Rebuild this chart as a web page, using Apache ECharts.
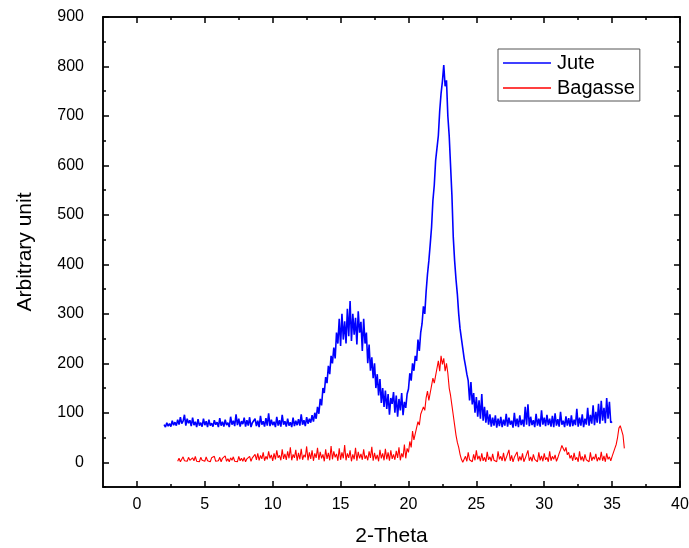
<!DOCTYPE html>
<html>
<head>
<meta charset="utf-8">
<script src="https://cdn.jsdelivr.net/npm/echarts@6/dist/echarts.min.js"></script>
<style>
  html, body { margin: 0; padding: 0; background: #fff; }
  #chart { width: 689px; height: 548px; }
</style>
</head>
<body>
<div id="chart"></div>
<script>
const chart = echarts.init(document.getElementById("chart"));

// scan grid: 2-theta start and step of each scan
const juteStart = 2.0;
const bagasseStart = 3.0;
const scanStep = 0.1;

// intensities, one row per degree
const juteValues = [
  76, 71, 80, 73, 78, 72, 84, 75, 81, 74,
  86, 76, 91, 78, 83, 96, 74, 88, 79, 85,
  73, 90, 75, 82, 71, 87, 74, 80, 72, 88,
  75, 83, 71, 86, 74, 79, 72, 85, 76, 81,
  71, 89, 74, 82, 72, 86, 75, 80, 71, 92,
  76, 84, 73, 97, 75, 88, 72, 83, 77, 90,
  72, 85, 74, 91, 71, 80, 76, 88, 73, 84,
  71, 94, 76, 83, 72, 89, 74, 99, 73, 86,
  75, 82, 71, 92, 74, 85, 72, 96, 76, 83,
  72, 88, 74, 81, 71, 90, 73, 84, 75, 87,
  74, 97, 76, 85, 73, 91, 78, 88, 80, 95,
  82, 100, 88, 112, 98, 128, 115, 150, 140, 172,
  160, 195, 178, 215, 200, 232, 210, 262, 240, 290,
  235, 300, 248, 285, 240, 310, 255, 326, 245, 300,
  258, 292, 238, 305, 262, 284, 225, 290, 240, 262,
  200, 238, 185, 212, 170, 200, 150, 178, 135, 168,
  120, 150, 112, 145, 108, 138, 96, 130, 118, 142,
  100, 135, 92, 128, 105, 140, 95, 122, 110, 138,
  148, 180, 165, 200, 185, 215, 205, 248, 225, 262,
  280, 315, 300, 345, 380, 407, 440, 475, 529, 560,
  610, 635, 660, 710, 745, 770, 803, 760, 772, 700,
  660, 600, 540, 455, 407, 370, 340, 300, 270, 250,
  230, 210, 195, 178, 165, 125, 162, 117, 140, 100,
  132, 92, 125, 88, 138, 84, 112, 80, 105, 76,
  97, 72, 90, 74, 95, 70, 88, 73, 92, 71,
  86, 74, 98, 72, 90, 76, 84, 70, 100, 73,
  88, 71, 95, 75, 86, 72, 112, 76, 117, 73,
  92, 75, 85, 71, 98, 74, 88, 72, 105, 76,
  90, 73, 96, 75, 88, 72, 94, 71, 99, 74,
  87, 72, 102, 76, 84, 71, 93, 74, 89, 72,
  95, 73, 86, 75, 108, 72, 90, 74, 97, 71,
  88, 76, 110, 74, 96, 78, 115, 75, 102, 80,
  118, 78, 124, 84, 110, 79, 130, 88, 122, 80,
  82
];

const bagasseValues = [
  2, 8, 1, 5, 11, 3, 7, 2, 10, 4,
  1, 9, 3, 12, 2, 6, 1, 10, 4, 8,
  2, 11, 3, 7, 1, 9, 5, 12, 2, 6,
  3, 10, 1, 8, 4, 13, 2, 7, 1, 9,
  4, 11, 2, 6, 1, 12, 3, 8, 2, 10,
  1, 7, 3, 12, 2, 9, 6, 16, 5, 18,
  4, 14, 7, 20, 3, 12, 6, 22, 8, 15,
  3, 18, 6, 24, 9, 14, 4, 26, 7, 17,
  5, 22, 8, 30, 4, 16, 9, 25, 3, 19,
  6, 27, 5, 15, 10, 32, 4, 20, 7, 24,
  3, 18, 9, 29, 5, 21, 8, 16, 2, 26,
  7, 19, 4, 33, 6, 22, 10, 17, 3, 28,
  5, 20, 8, 35, 4, 18, 9, 24, 2, 16,
  6, 29, 3, 21, 8, 17, 5, 26, 7, 14,
  4, 22, 9, 31, 3, 19, 6, 15, 2, 25,
  8, 18, 4, 27, 6, 20, 3, 24, 7, 16,
  5, 23, 9, 30, 4, 18, 10, 36, 8, 28,
  20, 42, 30, 63, 45, 58, 70, 82, 75, 97,
  95, 112, 105, 130, 144, 125, 140, 155, 170, 160,
  175, 190, 205, 184, 215, 198, 210, 184, 200, 180,
  150, 135, 115, 95, 75, 55, 40, 30, 16, 6,
  0, 3, 12, 2, 20, 5, 9, 1, 16, 4,
  24, 6, 13, 2, 18, 3, 10, 1, 21, 5,
  11, 2, 17, 4, 8, 1, 22, 6, 12, 3,
  19, 2, 9, 5, 25, 3, 14, 1, 10, 6,
  21, 2, 12, 4, 18, 1, 8, 5, 24, 3,
  11, 2, 16, 6, 9, 1, 20, 4, 13, 2,
  18, 5, 10, 1, 22, 3, 12, 6, 15, 2,
  9, 18, 25, 34, 28, 22, 30, 15, 20, 8,
  14, 3, 19, 5, 10, 1, 22, 4, 12, 2,
  16, 5, 9, 1, 20, 3, 11, 6, 17, 2,
  10, 4, 21, 3, 13, 1, 18, 6, 11, 3,
  12, 20, 28, 36, 50, 69, 74, 75, 55, 28
];

// tick labels
const xMajor = [0, 5, 10, 15, 20, 25, 30, 35, 40];
const xMinor = [2.5, 7.5, 12.5, 17.5, 22.5, 27.5, 32.5, 37.5];
const yMajor = [0, 100, 200, 300, 400, 500, 600, 700, 800, 900];
const yMinor = [-50, 50, 150, 250, 350, 450, 550, 650, 750, 850];

const toPairs = (start, vals) =>
  vals.map((v, i) => [+(start + i * scanStep).toFixed(2), v]);

const xRange = { min: -2.5, max: 40 };
const yRange = { min: -50, max: 900 };
const lineStyle = { color: "#000", width: 1.5 };
const labelFont = { fontFamily: "Liberation Sans", fontSize: 16, color: "#000" };
const nameFont = { fontFamily: "Liberation Sans", fontSize: 21, color: "#000" };

function tickAxis(range, position, ticks, len, extra) {
  return Object.assign(
    {
      type: "value",
      position: position,
      min: range.min,
      max: range.max,
      axisLine: { show: true, onZero: false, lineStyle: lineStyle },
      axisTick: { show: true, inside: true, length: len, customValues: ticks, lineStyle: lineStyle },
      axisLabel: { show: false },
      splitLine: { show: false },
    },
    extra || {}
  );
}

const option = {
  animation: false,
  grid: { left: 103, right: 9, top: 17, bottom: 61, outerBoundsMode: "none" },
  legend: {
    orient: "vertical",
    left: 498,
    top: 49,
    padding: [4, 5, 3, 5],
    itemGap: 5,
    itemWidth: 48,
    itemHeight: 1.5,
    icon: "rect",
    borderColor: "#555",
    borderWidth: 1,
    textStyle: { fontFamily: "Liberation Sans", fontSize: 20, color: "#000", padding: [0, 0, 0, 1] },
    data: ["Jute", "Bagasse"],
  },
  xAxis: [
    tickAxis(xRange, "bottom", xMajor, 6, {
      name: "2-Theta",
      nameLocation: "middle",
      nameGap: 39,
      nameTextStyle: nameFont,
      axisLabel: Object.assign({ show: true, margin: 10, customValues: xMajor }, labelFont),
    }),
    tickAxis(xRange, "bottom", xMinor, 3),
    tickAxis(xRange, "top", xMajor, 6),
    tickAxis(xRange, "top", xMinor, 3),
  ],
  yAxis: [
    tickAxis(yRange, "left", yMajor, 6, {
      name: "Arbitrary unit",
      nameLocation: "middle",
      nameGap: 67,
      nameTextStyle: nameFont,
      axisLabel: Object.assign({ show: true, margin: 19, customValues: yMajor }, labelFont),
    }),
    tickAxis(yRange, "left", yMinor, 3),
    tickAxis(yRange, "right", yMajor, 6),
    tickAxis(yRange, "right", yMinor, 3),
  ],
  series: [
    {
      name: "Jute",
      type: "line",
      showSymbol: false,
      data: toPairs(juteStart, juteValues),
      itemStyle: { color: "#0000ff" },
      lineStyle: { color: "#0000ff", width: 1.6 },
    },
    {
      name: "Bagasse",
      type: "line",
      showSymbol: false,
      data: toPairs(bagasseStart, bagasseValues),
      itemStyle: { color: "#ff0000" },
      lineStyle: { color: "#ff0000", width: 1.1 },
    },
  ],
};

chart.setOption(option);
</script>
</body>
</html>
